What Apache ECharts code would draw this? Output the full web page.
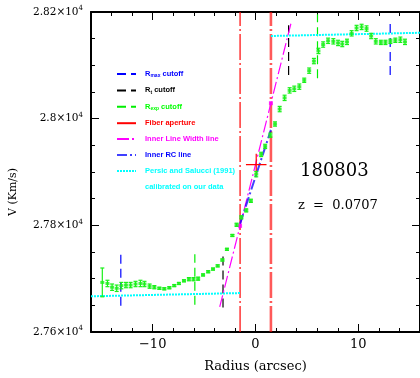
<!DOCTYPE html>
<html><head><meta charset="utf-8">
<script src="https://cdn.jsdelivr.net/npm/echarts@6/dist/echarts.min.js"></script>
<style>html,body{margin:0;padding:0;background:#fff}#c{width:420px;height:378px}</style>
</head><body><div id="c"></div>
<script>
// ---- data ----
const radius = [-14.9,-14.4,-13.95,-13.5,-13.05,-12.6,-12.15,-11.67,-11.19,-10.8,-10.3,-9.84,-9.35,-8.87,-8.38,-7.9,-7.45,-6.96,-6.48,-6.03,-5.58,-5.1,-4.6,-4.13,-3.68,-3.22,-2.78,-2.25,-1.84,-1.38,-0.9,-0.45,0.07,0.55,0.94,1.45,1.9,2.35,2.83,3.32,3.77,4.26,4.74,5.22,5.68,6.12,6.58,7.06,7.57,8.03,8.44,8.9,9.35,9.83,10.32,10.8,11.25,11.7,12.19,12.64,13.12,13.6,14.09,14.54];
const velocity = [27693,27691,27684,27682,27687,27688,27688,27690,27691,27690,27686,27684,27682,27681,27683,27687,27691,27696,27699,27699,27700,27707,27713,27718,27724,27735,27755,27781,27801,27815,27828,27846,27896,27933,27948,27969,27990,28018,28039,28053,28056,28060,28072,28090,28108,28127,28139,28146,28145,28142,28140,28144,28160,28170,28172,28169,28155,28145,28143,28143,28145,28147,28148,28144];
const velErr = [27,6,6,6,6,5,5,5,6,5,4,3,2,2,2,2,2,2,3,3,3,2,2,2,2,2,2,2,3,3,3,3,5,4,4,4,4,5,5,5,5,5,4,5,5,5,5,5,5,5,5,5,5,5,5,5,5,5,4,4,4,4,5,5];

const rmaxCut = [[-13.1, 27649, 27746], [13.1, 28082, 28178]];   // [radius, vLow, vHigh]
const rtCut   = [[-3.16, 27646, 27746], [3.22, 28082, 28175]];
const rexpCut = [[-5.9, 27651, 27746], [6.03, 28076, 28196]];
const fiberX  = [-1.5, 1.5];
const lineWidthLine = [[-3.48, 27647], [3.48, 28181]];
const lineWidthDots = [[-1.5, 27799], [1.5, 28029]];
const innerRC = [[-1.5, 27803], [1.5, 27979]];
const persicLeft  = [[-16, 27667], [-1.5, 27673]];
const persicRight = [[1.5, 28155], [16, 28161]];
const crossCenter = [0.07, 27914];
const crossErr = [1.0, 20];

const xMajorTicks = [-10, 0, 10];
const yMajorTicks = [27600, 27800, 28000, 28200];
const galaxyId = '180803';
const redshift = 'z  =  0.0707';

// ---- chart ----
const chart = echarts.init(document.getElementById('c'), null, {renderer: 'canvas'});
const serif = 'DejaVu Serif';
const GREEN = '#19f019', BLUE = '#0000ff', RED = '#ff0000', MAG = '#ff00ff', CYAN = '#00ffff';

function vline(name, x, lo, hi, color, type, width) {
  return {type: 'line', name, data: [[x, lo], [x, hi]], symbol: 'none', silent: true,
    itemStyle: {color}, lineStyle: {color, type, width}, z: 2};
}
const series = [];
rmaxCut.forEach(c => series.push(vline('Rmax', c[0], c[1], c[2], BLUE, [9, 5], 1.2)));
rtCut.forEach(c => series.push(vline('Rt', c[0], c[1], c[2], '#000', [9, 5], 1.2)));
rexpCut.forEach(c => series.push(vline('Rexp', c[0], c[1], c[2], '#00ee00', [9, 5], 1.2)));
series.push(vline('Fiber', fiberX[0], 27600, 28200, RED, [26, 3, 2, 3], 1.2));
series.push(vline('Fiber', fiberX[1], 27600, 28200, 'rgba(255,0,0,0.65)', [26, 3, 2, 3], 2.6));
series.push({type: 'line', name: 'ILW', data: lineWidthLine, symbol: 'none', itemStyle: {color: MAG}, lineStyle: {color: MAG, type: [12, 3, 2, 3], width: 1.2}, z: 3});
series.push({type: 'scatter', name: 'ILWdots', data: lineWidthDots, symbol: 'rect', symbolSize: 4, itemStyle: {color: MAG}, z: 4});
series.push({type: 'line', name: 'IRC', data: innerRC, symbol: 'none', itemStyle: {color: BLUE}, lineStyle: {color: 'rgba(0,0,255,0.75)', type: [10, 3, 2, 3], width: 2}, z: 3});
series.push({type: 'line', name: 'Persic', data: persicLeft, symbol: 'none', itemStyle: {color: CYAN}, lineStyle: {color: CYAN, type: [2, 1], width: 2}, z: 2});
series.push({type: 'line', name: 'Persic', data: persicRight, symbol: 'none', itemStyle: {color: CYAN}, lineStyle: {color: CYAN, type: [2, 1], width: 2}, z: 2});
series.push({type: 'line', name: 'calib', data: [], symbol: 'none', itemStyle: {color: 'rgba(0,0,0,0)'}, lineStyle: {opacity: 0}});
series.push({type: 'line', name: 'cross', data: [[crossCenter[0] - crossErr[0], crossCenter[1]], [crossCenter[0] + crossErr[0], crossCenter[1]]], symbol: 'none', lineStyle: {color: RED, width: 1.2}, z: 3});
series.push({type: 'line', name: 'cross', data: [[crossCenter[0], crossCenter[1] - crossErr[1]], [crossCenter[0], crossCenter[1] + crossErr[1]]], symbol: 'none', lineStyle: {color: RED, width: 1.2}, z: 3});

const pts = radius.map((r, i) => [r, velocity[i], velErr[i]]);
series.push({
  type: 'custom', name: 'err', data: pts, encode: {x: 0, y: 1}, z: 5,
  renderItem(params, api) {
    const x = api.value(0), y = api.value(1), e = api.value(2);
    const a = api.coord([x, y - e]), b = api.coord([x, y + e]);
    const w = 2;
    const st = {stroke: GREEN, lineWidth: 1.2};
    return {type: 'group', children: [
      {type: 'line', shape: {x1: a[0], y1: a[1], x2: b[0], y2: b[1]}, style: st},
      {type: 'line', shape: {x1: a[0] - w, y1: a[1], x2: a[0] + w, y2: a[1]}, style: st},
      {type: 'line', shape: {x1: b[0] - w, y1: b[1], x2: b[0] + w, y2: b[1]}, style: st}
    ]};
  }
});
series.push({type: 'scatter', name: 'pts', data: pts.map(p => [p[0], p[1]]), symbol: 'rect', symbolSize: [4, 3], itemStyle: {color: GREEN}, z: 6});

const legendText = {
  'Rmax': '{n|R}{sub|max}{n| cutoff}',
  'Rt': '{n|R}{sub|t}{n| cutoff}',
  'Rexp': '{n|R}{sub|exp}{n| cutoff}',
  'Fiber': '{n|Fiber aperture}',
  'ILW': '{n|Inner Line Width line}',
  'IRC': '{n|Inner RC line}',
  'Persic': '{n|Persic and Salucci (1991)}',
  'calib': '{n|calibrated on our data}'
};

const grid = {left: 91, top: 12, width: 331, height: 330};
const axLine = {show: true, onZero: false, lineStyle: {color: '#000', width: 2}};
function xAx(pos, major, labels) {
  return {type: 'value', min: -16, max: 16, interval: 2, position: pos,
    axisLine: major ? {show: false, onZero: false} : axLine, splitLine: {show: false},
    axisTick: major ? {show: true, inside: true, length: 8, customValues: xMajorTicks, lineStyle: {color: '#000'}}
                    : {show: true, inside: true, length: 4, lineStyle: {color: '#000'}},
    axisLabel: labels ? {show: true, margin: 6, fontFamily: serif, fontSize: 13, color: '#000',
      customValues: xMajorTicks, formatter: v => v < 0 ? '\u2212' + (-v) : String(v)} : {show: false}};
}
function yAx(pos, labels) {
  return {type: 'value', min: 27600, max: 28200, interval: 200, position: pos,
    axisLine: axLine, splitLine: {show: false},
    axisTick: {show: true, inside: true, length: 8, lineStyle: {color: '#000'}},
    minorTick: {show: true, splitNumber: 4, length: 4, lineStyle: {color: '#000'}},
    axisLabel: labels ? {show: true, margin: 8, color: '#000',
      formatter: v => '{m|' + (v / 1e4) + '\u00d710}{s|4}',
      rich: {m: {fontFamily: serif, fontSize: 10.5, color: '#000'}, s: {fontFamily: serif, fontSize: 7, color: '#000', padding: [0, 0, 7, 0]}}} : {show: false}};
}

const xAxes = [xAx('bottom', false, true), xAx('bottom', true, false), xAx('top', false, false), xAx('top', true, false)];
xAxes[0].name = 'Radius (arcsec)';
xAxes[0].nameLocation = 'middle';
xAxes[0].nameGap = 28;
xAxes[0].nameTextStyle = {fontFamily: serif, fontSize: 13, color: '#000'};
const yAxes = [yAx('left', true), yAx('right', false)];
yAxes[0].name = 'V (Km/s)';
yAxes[0].nameLocation = 'middle';
yAxes[0].nameGap = 72;
yAxes[0].nameTextStyle = {fontFamily: serif, fontSize: 11, color: '#000', padding: [0, 40, 0, 0]};

const legendColors = {Rmax: BLUE, Rt: '#000', Rexp: '#00ff00', Fiber: RED, ILW: MAG, IRC: BLUE, Persic: CYAN, calib: CYAN};
chart.setOption({
  animation: false,
  grid,
  xAxis: xAxes,
  yAxis: yAxes,
  legend: {
    orient: 'vertical', left: 111, top: 65, itemWidth: 19, itemHeight: 10, itemGap: 7.9,
    selectedMode: false,
    itemStyle: {opacity: 0},
    data: Object.keys(legendText).map(k => ({name: k, textStyle: {color: legendColors[k]},
      ...(k === 'calib' ? {lineStyle: {opacity: 0}} : {})})),
    formatter: n => legendText[n],
    textStyle: {fontFamily: 'Liberation Sans', fontWeight: 'bold', fontSize: 7.5, padding: [0, 0, 0, 4],
      rich: {n: {fontFamily: 'Liberation Sans', fontWeight: 'bold', fontSize: 7.5},
             sub: {fontFamily: 'Liberation Sans', fontWeight: 'bold', fontSize: 5, padding: [4, 0, 0, 0]}}}
  },
  graphic: [
    {type: 'text', left: 300, top: 162, style: {text: galaxyId, font: '18px "DejaVu Serif"', fill: '#000'}},
    {type: 'text', left: 298, top: 199, style: {text: redshift, font: '13px "DejaVu Serif"', fill: '#000'}}
  ],
  series
});
</script></body></html>
